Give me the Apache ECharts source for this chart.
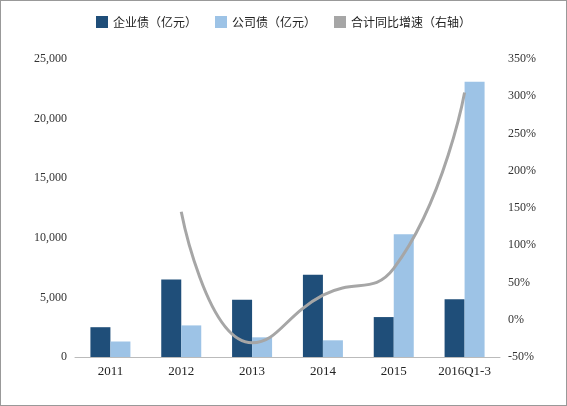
<!DOCTYPE html>
<html><head><meta charset="utf-8">
<script src="https://cdn.jsdelivr.net/npm/echarts@6/dist/echarts.min.js"></script>
<style>body{margin:0}#c{width:567px;height:406px;box-sizing:border-box;border:1px solid #999;}</style>
</head><body><div id="c"></div>
<script>
const categories = ['2011','2012','2013','2014','2015','2016Q1-3'];
const qiyezhai = [2500, 6500, 4800, 6900, 3350, 4850];
const gongsizhai = [1300, 2650, 1650, 1400, 10300, 23100];
const growth = [null, 145, -31, 33, 69, 305];
const chart = echarts.init(document.getElementById('c'));
const serif = 'Liberation Serif';
chart.setOption({
  animation:false,
  legend:{top:10,left:'center',itemGap:18,itemWidth:12,itemHeight:12,
    textStyle:{fontFamily:'Noto Sans CJK SC',fontSize:12,color:'#222'},
    data:[{name:'企业债（亿元）',icon:'rect'},{name:'公司债（亿元）',icon:'rect'},
      {name:'合计同比增速（右轴）',icon:'rect',itemStyle:{color:'#A6A6A6'}}]},
  grid:{left:74,right:66,top:58,bottom:48},
  xAxis:{type:'category',data:categories,axisTick:{show:false},
    axisLine:{lineStyle:{color:'#bbb'}},axisLabel:{fontFamily:serif,fontSize:13,color:'#222'}},
  yAxis:[{type:'value',min:0,max:25000,interval:5000,splitLine:{show:false},
    axisLabel:{fontFamily:serif,fontSize:12,color:'#333',formatter:v=>v.toLocaleString('en-US')}},
   {type:'value',min:-50,max:350,interval:50,splitLine:{show:false},
    axisLabel:{fontFamily:serif,fontSize:12,color:'#333',formatter:'{value}%'}}],
  series:[
   {name:'企业债（亿元）',type:'bar',data:qiyezhai,barWidth:20,barGap:'0%',itemStyle:{color:'#1F4E79'}},
   {name:'公司债（亿元）',type:'bar',data:gongsizhai,barWidth:20,itemStyle:{color:'#9DC3E6'}},
   {name:'合计同比增速（右轴）',type:'line',yAxisIndex:1,data:growth,smooth:0.5,symbol:'none',
    lineStyle:{color:'#A6A6A6',width:3},itemStyle:{color:'#A6A6A6'}}
  ]
});
</script></body></html>
